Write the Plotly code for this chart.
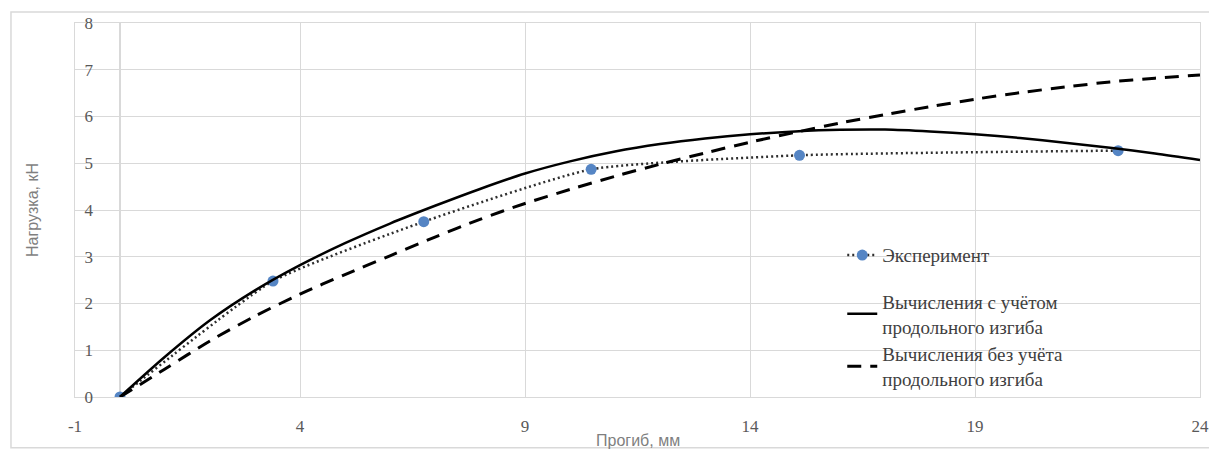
import plotly.graph_objects as go

# Experimental data
exp_x = [0, 3.4, 6.75, 10.47, 15.1, 22.18]
exp_y = [0, 2.48, 3.75, 4.87, 5.17, 5.27]

# Calculation grid
calc_x = list(range(0, 25))
# with buckling (solid)
with_buck_y = [0, 0.86, 1.64, 2.28, 2.82, 3.29, 3.71, 4.09, 4.45, 4.78, 5.04,
               5.25, 5.41, 5.53, 5.62, 5.68, 5.715, 5.72, 5.68, 5.62, 5.54,
               5.44, 5.33, 5.21, 5.07]
# without buckling (dashed)
no_buck_y = [0, 0.6, 1.2, 1.73, 2.2, 2.62, 3.02, 3.42, 3.8, 4.14, 4.44,
             4.72, 4.98, 5.22, 5.45, 5.66, 5.86, 6.04, 6.21, 6.37, 6.51,
             6.63, 6.74, 6.82, 6.89]

names = ["Эксперимент",
         "Вычисления с учётом<br>продольного изгиба",
         "Вычисления без учёта<br>продольного изгиба"]

x_ticks = [-1, 4, 9, 14, 19, 24]
y_ticks = list(range(0, 9))

fig = go.Figure()
fig.add_trace(go.Scatter(
    x=exp_x, y=exp_y, mode="lines+markers", name=names[0], legend="legend",
    line=dict(color="#2e2e2e", width=2.5, dash="2px,3px", shape="spline", smoothing=0.5),
    marker=dict(color="#5585c4", size=11),
))
fig.add_trace(go.Scatter(
    x=calc_x, y=with_buck_y, mode="lines", name=names[1], legend="legend2",
    line=dict(color="#000000", width=2.5, shape="spline", smoothing=0.8),
))
fig.add_trace(go.Scatter(
    x=calc_x, y=no_buck_y, mode="lines", name=names[2], legend="legend2",
    line=dict(color="#000000", width=3, dash="14px,9px", shape="spline", smoothing=0.8),
))

grid = "#d9d9d9"
legend_font = dict(family="Liberation Serif", size=19, color="#404040")
fig.update_layout(
    width=1209, height=442,
    margin=dict(l=67, r=17, t=15, b=53, autoexpand=False),
    paper_bgcolor="white", plot_bgcolor="white",
    showlegend=True,
    legend=dict(
        x=0.682, y=0.43, xanchor="left", yanchor="top",
        bgcolor="rgba(0,0,0,0)", font=legend_font,
    ),
    legend2=dict(
        x=0.682, y=0.306, xanchor="left", yanchor="top",
        bgcolor="rgba(0,0,0,0)", font=legend_font, tracegroupgap=0,
    ),
    xaxis=dict(
        range=[-1, 24], tickvals=x_ticks, ticktext=[str(v) for v in x_ticks],
        automargin=False,
        showgrid=True, gridcolor=grid, gridwidth=1,
        zeroline=True, zerolinecolor=grid, zerolinewidth=1.5,
        showline=True, linecolor=grid, mirror=True,
        ticks="", ticklabelstandoff=14, ticklabeloverflow="allow",
        tickfont=dict(family="Liberation Serif", size=17, color="#595959"),
    ),
    yaxis=dict(
        range=[0, 8], tickvals=y_ticks,
        automargin=False,
        showgrid=True, gridcolor=grid, gridwidth=1,
        zeroline=False,
        showline=True, linecolor=grid, mirror=True,
        ticks="", ticklabelposition="inside", ticklabelstandoff=10,
        ticklabeloverflow="allow",
        tickfont=dict(family="Liberation Serif", size=17, color="#595959"),
        title=dict(text="Нагрузка, кН", standoff=41,
                   font=dict(family="Liberation Sans", size=16, color="#7f7f7f")),
    ),
)

# x-axis title placed like the original (overlapping the tick-label band)
fig.add_annotation(text="Прогиб, мм", xref="paper", yref="paper",
                   x=0.5, y=-0.1176, xanchor="center", yanchor="middle",
                   showarrow=False,
                   font=dict(family="Liberation Sans", size=16, color="#7f7f7f"))

# outer chart frame
fig.add_shape(type="rect", xref="paper", yref="paper",
              x0=-0.0569, x1=1.0125, y0=-0.136, y1=1.0294,
              line=dict(color="#d9d9d9", width=1.5), fillcolor="rgba(0,0,0,0)",
              layer="below")

fig.write_html("out.html")
